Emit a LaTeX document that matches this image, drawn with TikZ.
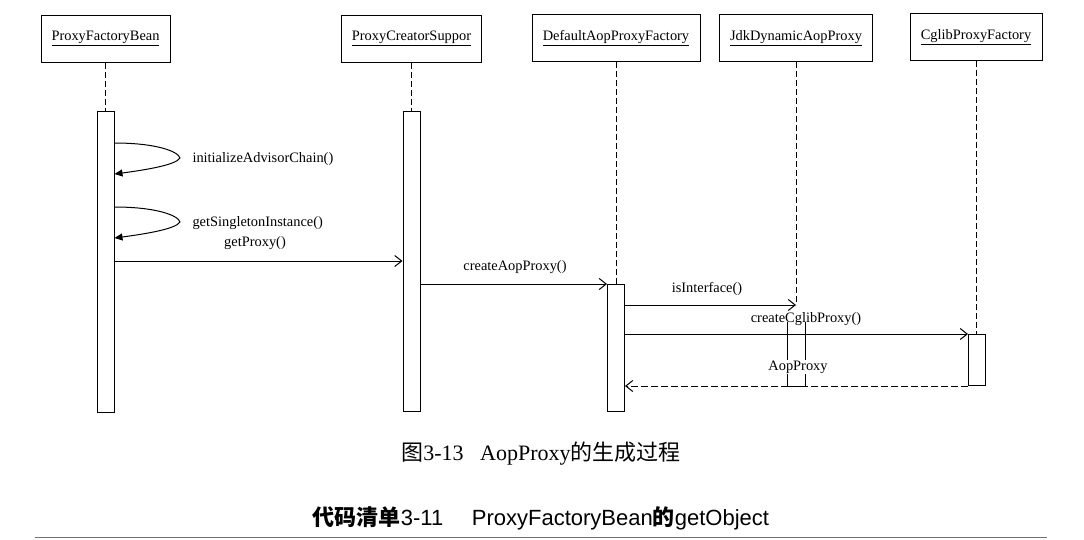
\documentclass[tikz,border=0pt]{standalone}
\usepackage{fontspec}
\setmainfont{Liberation Serif}
\setsansfont{Liberation Sans}
\newfontfamily\cjk{Noto Sans CJK SC}
\usepackage{tikz}
\usetikzlibrary{arrows.meta}
\usetikzlibrary{positioning}

\begin{document}
\begin{tikzpicture}[x=1pt,y=-1pt,
font=\fontsize{14.4}{16}\selectfont,
obj/.style={draw,line width=1pt,minimum height=47pt,inner sep=0pt},
act/.style={draw,fill=white,line width=1pt,minimum width=17pt,inner sep=0pt,anchor=north},
life/.style={line width=1pt,dash pattern=on 6pt off 3pt},
msg/.style={line width=1pt,-{Straight Barb[length=7pt,width=11pt]}},
selfmsg/.style={line width=1pt,-{Triangle[length=8pt,width=7pt]}},
ret/.style={line width=1pt,dash pattern=on 7pt off 3pt,-{Straight Barb[length=7pt,width=11pt]}}]
\useasboundingbox[fill=white] (0,0) rectangle (1084,539);
\node[obj,minimum width=129pt] (pfb) at (105.5,38.5) {\underline{ProxyFactoryBean}};
\node[obj,minimum width=140pt] (pcs) at (411.5,38.5) {\underline{ProxyCreatorSuppor}};
\node[obj,minimum width=168pt] (dapf) at (616,38) {\underline{DefaultAopProxyFactory}};
\node[obj,minimum width=153pt] (jdap) at (796,38) {\underline{JdkDynamicAopProxy}};
\node[obj,minimum width=132pt] (cpf) at (976,37) {\underline{CglibProxyFactory}};
\node[act,minimum height=301pt] (pfbact) at (105.5,111) {};
\node[act,minimum height=300pt] (pcsact) at (411.5,111) {};
\node[act,minimum height=127pt] (dapfact) at (616,284) {};
\node[act,minimum height=51pt] (cpfact) at (977,334) {};
\node[minimum width=17pt,minimum height=64pt,inner sep=0pt,anchor=north] (jdapact) at (796.5,322) {};
\coordinate (isif) at (796,305);
\coordinate (loopa) at (180,158);
\coordinate (loopb) at (180,222);
\draw[life] (pfb.south) -- (pfb.south |- pfbact.north);
\draw[life] (pcs.south) -- (pcs.south |- pcsact.north);
\draw[life] (dapf.south) -- (dapf.south |- dapfact.north);
\draw[life] (jdap.south) -- (jdap.south |- isif);
\draw[life] (cpf.south) -- (cpf.south |- cpfact.north);
\draw[line width=1pt] (jdapact.north west) -- (jdapact.south west) -- (jdapact.south east) -- (jdapact.north east);
\draw[selfmsg] (pfbact.east |- 0,143) .. controls (155,143) and (178,151) .. (loopa) .. controls (176,165) and (145,170) .. (pfbact.east |- 0,174);
\draw[selfmsg] (pfbact.east |- 0,207) .. controls (155,207) and (178,215) .. (loopb) .. controls (176,229) and (145,234) .. (pfbact.east |- 0,238);
\draw[msg] (pfbact.east |- 0,261) -- (pcsact.west |- 0,261);
\draw[msg] (pcsact.east |- dapfact.north) -- (dapfact.north west);
\draw[msg] (dapfact.east |- isif) -- (isif);
\draw[msg] (dapfact.east |- cpfact.north) -- (cpfact.north west);
\draw[ret] (cpfact.south west) -- (dapfact.east |- cpfact.south);
\node[anchor=west] (initlbl) at (189,159) {initializeAdvisorChain()};
\node[anchor=west] (singlbl) at (189,223) {getSingletonInstance()};
\node (gplbl) at (255,243) {getProxy()};
\node (caplbl) at (515,267) {createAopProxy()};
\node (iflbl) at (707,289) {isInterface()};
\node (cglbl) at (806,319) {createCglibProxy()};
\node[fill=white,inner sep=1pt] (aplbl) at (798,367) {AopProxy};
\node (cap) at (541,454) {\fontsize{22}{26}\selectfont{\cjk 图}3-13\hspace{0.75em}AopProxy{\cjk 的生成过程}};
\node (lst) at (541,518) {\fontsize{22}{26}\selectfont\sffamily{\cjk\bfseries 代码清单}3-11\hspace{1.3em}ProxyFactoryBean{\cjk\bfseries 的}getObject};
\draw[line width=1.5pt,black!55] (35,537.5) -- (1047,537.5);
\end{tikzpicture}
\end{document}
